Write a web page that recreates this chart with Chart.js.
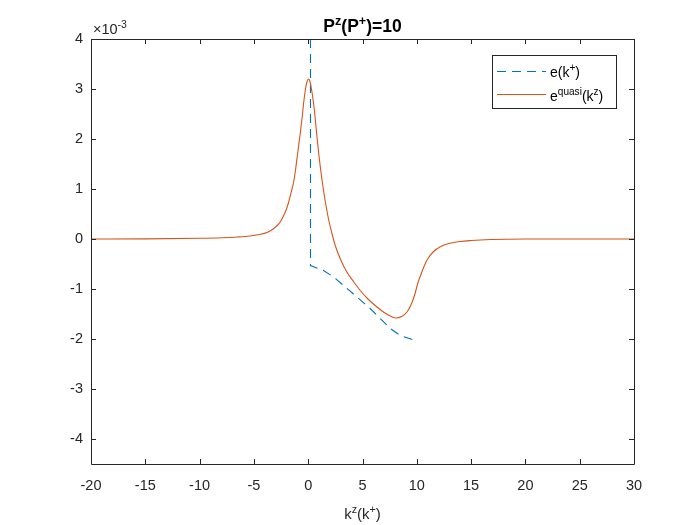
<!DOCTYPE html>
<html>
<head>
<meta charset="utf-8">
<script src="https://cdn.jsdelivr.net/npm/chart.js@4.4.0/dist/chart.umd.min.js"></script>
<style>
body { margin: 0; background: #fff; }
#grafico { display: block; }
</style>
</head>
<body>
<canvas id="grafico" width="700" height="525"></canvas>
<script>
// e^quasi(k^z)  (valores en unidades de 1e-3)
const kQuasi = [-20, -15, -10, -8, -6.5, -5.35, -4.5, -3.8, -3.3, -2.9, -2.58, -2.28, -2.0, -1.81, -1.55, -1.35, -1.2, -0.95, -0.74, -0.55, -0.43, -0.25, -0.1, 0.03, 0.15, 0.3, 0.49, 0.65, 0.8, 1.0, 1.26, 1.55, 1.87, 2.2, 2.49, 3.0, 3.56, 4.2, 4.79, 5.5, 6.33, 7.0, 7.56, 8.1, 8.6, 9.1, 9.5, 9.8, 10.1, 10.4, 10.7, 11.0, 11.55, 12.2, 12.8, 14.0, 15.0, 16.8, 20, 25, 30];
const eQuasi = [0, 0.003, 0.015, 0.025, 0.04, 0.06, 0.09, 0.13, 0.19, 0.26, 0.34, 0.46, 0.6, 0.73, 0.95, 1.13, 1.33, 1.75, 2.1, 2.45, 2.7, 3.0, 3.15, 3.2, 3.16, 3.0, 2.72, 2.4, 2.06, 1.65, 1.2, 0.78, 0.4, 0.1, -0.13, -0.42, -0.66, -0.86, -1.03, -1.2, -1.36, -1.47, -1.54, -1.58, -1.55, -1.46, -1.3, -1.12, -0.88, -0.7, -0.53, -0.4, -0.25, -0.15, -0.1, -0.05, -0.03, -0.01, 0, 0, 0];

// e(k^+)  (sube fuera del grafico en k+ ~ 0)
const kPlus = [0.21, 0.21, 1.41, 2.33, 3.25, 4.49, 5.71, 6.64, 7.56, 8.48, 9.7];
const ePlus = [40, -0.53, -0.63, -0.76, -0.93, -1.16, -1.39, -1.59, -1.79, -1.93, -2.02];

// ticks
const xTicks = [-20, -15, -10, -5, 0, 5, 10, 15, 20, 25, 30];
const yTicks = [-4, -3, -2, -1, 0, 1, 2, 3, 4];

const FUENTE = '"Liberation Sans", Arial, sans-serif';
const GRIS = '#262626';

// texto con superindices: partes = [[texto, esSup], ...]
function textoRico(ctx, partes, x, y, tam, negrita, alinear) {
    const peso = negrita ? 'bold ' : '';
    let ancho = 0;
    partes.forEach(function(p) {
        ctx.font = peso + (p[1] ? tam * 0.72 : tam) + 'px ' + FUENTE;
        ancho += ctx.measureText(p[0]).width;
    });
    let cx = x;
    if (alinear === 'center') cx = x - ancho / 2;
    ctx.textAlign = 'left';
    ctx.textBaseline = 'alphabetic';
    partes.forEach(function(p) {
        ctx.font = peso + (p[1] ? tam * 0.72 : tam) + 'px ' + FUENTE;
        ctx.fillText(p[0], cx, p[1] ? y - tam * 0.42 : y);
        cx += ctx.measureText(p[0]).width;
    });
}

const ejesMatlab = {
    id: 'ejesMatlab',
    afterDraw: function(chart) {
        const ctx = chart.ctx;
        const a = chart.chartArea;
        const sx = chart.scales.x;
        const sy = chart.scales.y;
        ctx.save();
        ctx.strokeStyle = GRIS;
        ctx.lineWidth = 1;
        ctx.setLineDash([]);
        ctx.beginPath();
        ctx.rect(Math.round(a.left) + 0.5, Math.round(a.top) + 0.5, Math.round(a.right - a.left), Math.round(a.bottom - a.top));
        ctx.stroke();

        // ticks hacia adentro
        ctx.beginPath();
        xTicks.forEach(function(v) {
            const px = Math.round(sx.getPixelForValue(v)) + 0.5;
            ctx.moveTo(px, a.bottom); ctx.lineTo(px, a.bottom - 5);
            ctx.moveTo(px, a.top); ctx.lineTo(px, a.top + 5);
        });
        yTicks.forEach(function(v) {
            const py = Math.round(sy.getPixelForValue(v)) + 0.5;
            ctx.moveTo(a.left, py); ctx.lineTo(a.left + 5, py);
            ctx.moveTo(a.right, py); ctx.lineTo(a.right - 5, py);
        });
        ctx.stroke();

        ctx.fillStyle = '#000';
        // titulo
        textoRico(ctx, [['P', false], ['z', true], ['(P', false], ['+', true], [')=10', false]], (a.left + a.right) / 2, 32, 17.5, true, 'center');

        // etiqueta eje x
        ctx.fillStyle = GRIS;
        textoRico(ctx, [['k', false], ['z', true], ['(k', false], ['+', true], [')', false]], (a.left + a.right) / 2, 519, 15, false, 'center');

        // exponente
        textoRico(ctx, [['\u00d710', false], ['-3', true]], a.left + 2, 34, 14.5, false, 'left');

        // leyenda
        const lx = 492.5, ly = 55.5, lw = 124, lh = 53;
        ctx.fillStyle = '#fff';
        ctx.fillRect(lx, ly, lw, lh);
        ctx.strokeStyle = GRIS;
        ctx.strokeRect(lx, ly, lw, lh);

        ctx.lineWidth = 1.2;
        ctx.strokeStyle = chart.data.datasets[1].borderColor;
        ctx.setLineDash([9, 6]);
        ctx.beginPath(); ctx.moveTo(497, 71.5); ctx.lineTo(546, 71.5); ctx.stroke();
        ctx.setLineDash([]);
        ctx.strokeStyle = chart.data.datasets[0].borderColor;
        ctx.beginPath(); ctx.moveTo(497, 94.5); ctx.lineTo(546, 94.5); ctx.stroke();

        ctx.fillStyle = '#000';
        textoRico(ctx, [['e(k', false], ['+', true], [')', false]], 550, 77, 14, false, 'left');
        textoRico(ctx, [['e', false], ['quasi', true], ['(k', false], ['z', true], [')', false]], 550, 101, 14, false, 'left');
        ctx.restore();
    }
};

const puntosQuasi = kQuasi.map(function(k, i) { return {x: k, y: eQuasi[i]}; });
const puntosPlus = kPlus.map(function(k, i) { return {x: k, y: ePlus[i]}; });

const ctx = document.getElementById('grafico').getContext('2d');
const grafico = new Chart(ctx, {
    type: 'scatter',
    data: {
        datasets: [{
            label: 'e^quasi(k^z)',
            data: puntosQuasi,
            showLine: true,
            borderColor: '#D95319',
            borderWidth: 1.1,
            pointRadius: 0,
            cubicInterpolationMode: 'monotone'
        }, {
            label: 'e(k^+)',
            data: puntosPlus,
            showLine: true,
            borderColor: '#0072BD',
            borderWidth: 1.1,
            borderDash: [9, 6],
            pointRadius: 0,
            tension: 0
        }]
    },
    options: {
        responsive: false,
        animation: false,
        layout: { padding: { left: 0, right: 66, top: 39, bottom: 0 } },
        plugins: {
            legend: { display: false },
            title: { display: false },
            tooltip: { enabled: false }
        },
        scales: {
            x: {
                type: 'linear',
                min: -20,
                max: 30,
                grid: { display: false, drawTicks: false },
                border: { display: false },
                ticks: {
                    color: GRIS,
                    font: { family: FUENTE, size: 14.5 },
                    padding: 13,
                    maxRotation: 0
                },
                afterBuildTicks: function(s) { s.ticks = xTicks.map(function(v) { return {value: v}; }); },
                afterFit: function(s) { s.height = 61; }
            },
            y: {
                type: 'linear',
                min: -4.5,
                max: 4,
                grid: { display: false, drawTicks: false },
                border: { display: false },
                ticks: {
                    color: GRIS,
                    font: { family: FUENTE, size: 14.5 },
                    padding: 8
                },
                afterBuildTicks: function(s) { s.ticks = yTicks.map(function(v) { return {value: v}; }); },
                afterFit: function(s) { s.width = 91; }
            }
        }
    },
    plugins: [ejesMatlab]
});
</script>
</body>
</html>
